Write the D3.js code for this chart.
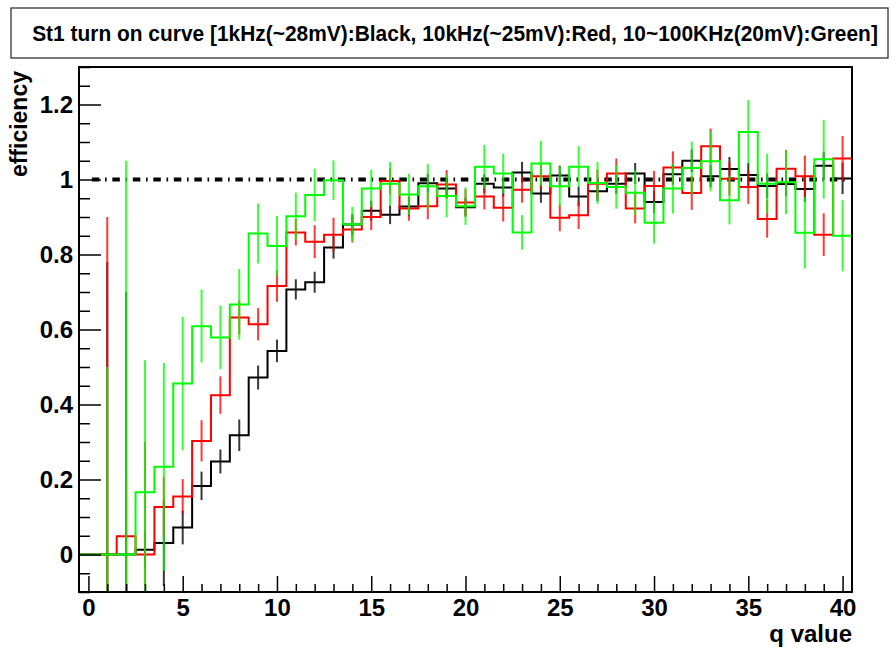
<!DOCTYPE html>
<html>
<head>
<meta charset="utf-8">
<script src="https://cdn.jsdelivr.net/npm/d3@7"></script>
<style>
  body { margin: 0; background: #fff; }
  svg text { font-family: "Liberation Sans", Arial, Helvetica, sans-serif; font-weight: bold; }
</style>
</head>
<body>
<svg id="chart" width="896" height="648"></svg>
<script>
// q value bins (centres 0..40, unit width)
const qBins = d3.range(0, 41);

// 1 kHz (~28 mV)
const blackEff = [0, 0, 0, 0.013, 0.031, 0.072, 0.183, 0.248, 0.318, 0.472,
  0.543, 0.707, 0.726, 0.819, 0.880, 0.917, 0.906, 0.928, 0.990, 0.976,
  0.926, 0.989, 0.979, 1.019, 0.963, 1.011, 0.955, 0.969, 0.989, 1.016,
  0.940, 1.014, 1.050, 1.009, 1.028, 1.012, 0.983, 0.988, 0.975, 1.037, 1.003];
const blackErr = [0, 0.78, 0.70, 0.05, 0.115, 0.045, 0.038, 0.032, 0.042, 0.032,
  0.030, 0.027, 0.028, 0.030, 0.028, 0.027, 0.025, 0.025, 0.025, 0.025,
  0.025, 0.025, 0.025, 0.028, 0.025, 0.026, 0.026, 0.027, 0.027, 0.028,
  0.030, 0.028, 0.030, 0.030, 0.032, 0.032, 0.033, 0.033, 0.035, 0.037, 0.042];

// 10 kHz (~25 mV)
const redEff = [0, 0, 0.049, 0, 0.127, 0.155, 0.303, 0.425, 0.632, 0.614,
  0.716, 0.859, 0.834, 0.853, 0.867, 0.900, 0.996, 0.923, 0.929, 0.987,
  0.939, 0.955, 0.925, 0.973, 1.009, 0.898, 0.905, 0.989, 1.016, 0.923,
  0.983, 1.032, 0.964, 1.089, 1.002, 0.980, 0.895, 1.029, 1.009, 0.853, 1.056];
const redErr = [0, 0.90, 0.16, 0.30, 0.080, 0.046, 0.055, 0.050, 0.045, 0.043,
  0.042, 0.035, 0.044, 0.045, 0.035, 0.035, 0.035, 0.033, 0.035, 0.038,
  0.035, 0.035, 0.037, 0.035, 0.035, 0.036, 0.037, 0.037, 0.040, 0.040,
  0.040, 0.043, 0.045, 0.047, 0.045, 0.045, 0.050, 0.050, 0.055, 0.057, 0.060];

// 10~100 kHz (20 mV)
const greenEff = [0, 0, 0, 0.166, 0.234, 0.456, 0.609, 0.579, 0.667, 0.856,
  0.823, 0.902, 0.959, 0.998, 0.881, 0.976, 0.989, 0.960, 0.982, 0.956,
  0.929, 1.034, 1.016, 0.859, 1.043, 0.982, 1.034, 0.991, 0.980, 0.965,
  0.885, 0.976, 1.031, 1.049, 0.945, 1.127, 0.989, 0.993, 0.858, 1.054, 0.850];
const greenErr = [0, 0.50, 1.05, 0.352, 0.277, 0.178, 0.097, 0.085, 0.094, 0.080,
  0.080, 0.063, 0.070, 0.053, 0.046, 0.050, 0.058, 0.055, 0.060, 0.057,
  0.050, 0.058, 0.053, 0.046, 0.060, 0.053, 0.055, 0.056, 0.058, 0.060,
  0.056, 0.067, 0.070, 0.080, 0.065, 0.085, 0.080, 0.085, 0.095, 0.105, 0.095];

const xMajorTicks = [0, 5, 10, 15, 20, 25, 30, 35, 40];
const xTickLabels = ["0", "5", "10", "15", "20", "25", "30", "35", "40"];
const yMajorTicks = [0, 0.2, 0.4, 0.6, 0.8, 1.0, 1.2];
const yTickLabels = ["0", "0.2", "0.4", "0.6", "0.8", "1", "1.2"];

const titleText = "St1 turn on curve [1kHz(~28mV):Black, 10kHz(~25mV):Red, 10~100KHz(20mV):Green]";
const xTitle = "q value";
const yTitle = "efficiency";
const referenceLevel = 1;

const series = [
  { values: blackEff, errors: blackErr, color: "#000000" },
  { values: redEff, errors: redErr, color: "#ff0000" },
  { values: greenEff, errors: greenErr, color: "#00ff00" }
];

// ---- layout ----
const frame = { left: 79, top: 67, right: 852, bottom: 592 };
const svg = d3.select("#chart");

const x = d3.scaleLinear().domain([-0.5, 40.5]).range([frame.left, frame.right]);
const y = d3.scaleLinear().domain([-0.1, 1.3]).range([frame.bottom, frame.top]);

svg.append("rect").attr("width", 896).attr("height", 648).attr("fill", "#fff");

// title box with a horizontally condensed bold title
svg.append("rect")
  .attr("x", 11).attr("y", 8).attr("width", 877).attr("height", 50)
  .attr("fill", "#fff").attr("stroke", "#222").attr("stroke-width", 1.2);
const title = svg.append("text")
  .attr("text-anchor", "middle")
  .attr("font-size", 22.5)
  .text(titleText);
const titleWidth = 846;
const squeeze = Math.min(1, titleWidth / title.node().getComputedTextLength());
title.attr("transform", `translate(455,40.5) scale(${squeeze},1)`);

// clip region for the plot contents
svg.append("defs").append("clipPath").attr("id", "plotClip")
  .append("rect")
  .attr("x", frame.left).attr("y", frame.top)
  .attr("width", frame.right - frame.left).attr("height", frame.bottom - frame.top);

const plot = svg.append("g").attr("clip-path", "url(#plotClip)");

// reference line at efficiency = 1 (dash-dot)
plot.append("path")
  .attr("d", d3.line()([[x(0), y(referenceLevel)], [x(40.3), y(referenceLevel)]]))
  .attr("stroke", "#000").attr("stroke-width", 4)
  .attr("stroke-dasharray", "7.5,5.7,1.6,5.7")
  .attr("stroke-dashoffset", 17.1)
  .attr("fill", "none");

const stepLine = d3.line();
series.forEach(s => {
  // histogram outline
  const pts = [];
  qBins.forEach((q, i) => {
    pts.push([x(q - 0.5), y(s.values[i])]);
    pts.push([x(q + 0.5), y(s.values[i])]);
  });
  plot.append("path")
    .attr("d", stepLine(pts))
    .attr("fill", "none")
    .attr("stroke", s.color)
    .attr("stroke-width", 2);

  // vertical error bars
  plot.append("g").selectAll("line")
    .data(qBins.filter((q, i) => s.errors[i] > 0))
    .join("line")
    .attr("x1", q => x(q)).attr("x2", q => x(q))
    .attr("y1", q => y(s.values[q] - s.errors[q]))
    .attr("y2", q => y(s.values[q] + s.errors[q]))
    .attr("stroke", s.color)
    .attr("stroke-opacity", 0.78)
    .attr("stroke-width", 2);
});

// ---- axes ----
const xAxisMajor = d3.axisBottom(x)
  .tickValues(xMajorTicks)
  .tickSize(-16).tickPadding(7)
  .tickFormat((d, i) => xTickLabels[i]);
const xAxisMinor = d3.axisBottom(x)
  .tickValues(qBins.filter(q => !xMajorTicks.includes(q)))
  .tickSize(-8).tickFormat("");

const yMinorValues = d3.range(-0.1, 1.3001, 0.05)
  .map(v => Math.round(v * 100) / 100)
  .filter(v => !yMajorTicks.some(m => Math.abs(m - v) < 1e-6));
const yAxisMajor = d3.axisLeft(y)
  .tickValues(yMajorTicks)
  .tickSize(-22).tickPadding(6)
  .tickFormat((d, i) => yTickLabels[i]);
const yAxisMinor = d3.axisLeft(y)
  .tickValues(yMinorValues)
  .tickSize(-11).tickFormat("");

function styleAxis(g) {
  g.select(".domain").remove();
  g.selectAll(".tick line").attr("stroke", "#000").attr("stroke-width", 1.5);
  g.selectAll(".tick text")
    .attr("fill", "#000")
    .attr("font-size", 24)
    .attr("font-family", "'Liberation Sans', Arial, sans-serif")
    .attr("font-weight", "bold");
}

svg.append("g").attr("transform", `translate(0,${frame.bottom})`).call(xAxisMinor).call(styleAxis);
svg.append("g").attr("transform", `translate(0,${frame.bottom})`).call(xAxisMajor).call(styleAxis);
svg.append("g").attr("transform", `translate(${frame.left},0)`).call(yAxisMinor).call(styleAxis);
svg.append("g").attr("transform", `translate(${frame.left},0)`).call(yAxisMajor).call(styleAxis);

// frame
svg.append("rect")
  .attr("x", frame.left).attr("y", frame.top)
  .attr("width", frame.right - frame.left).attr("height", frame.bottom - frame.top)
  .attr("fill", "none").attr("stroke", "#000").attr("stroke-width", 2);

// axis titles
svg.append("text")
  .attr("x", frame.right).attr("y", 642)
  .attr("text-anchor", "end")
  .attr("font-size", 24)
  .text(xTitle);
svg.append("text")
  .attr("transform", `translate(27,${frame.top + 4}) rotate(-90)`)
  .attr("text-anchor", "end")
  .attr("font-size", 23)
  .text(yTitle);
</script>
</body>
</html>
